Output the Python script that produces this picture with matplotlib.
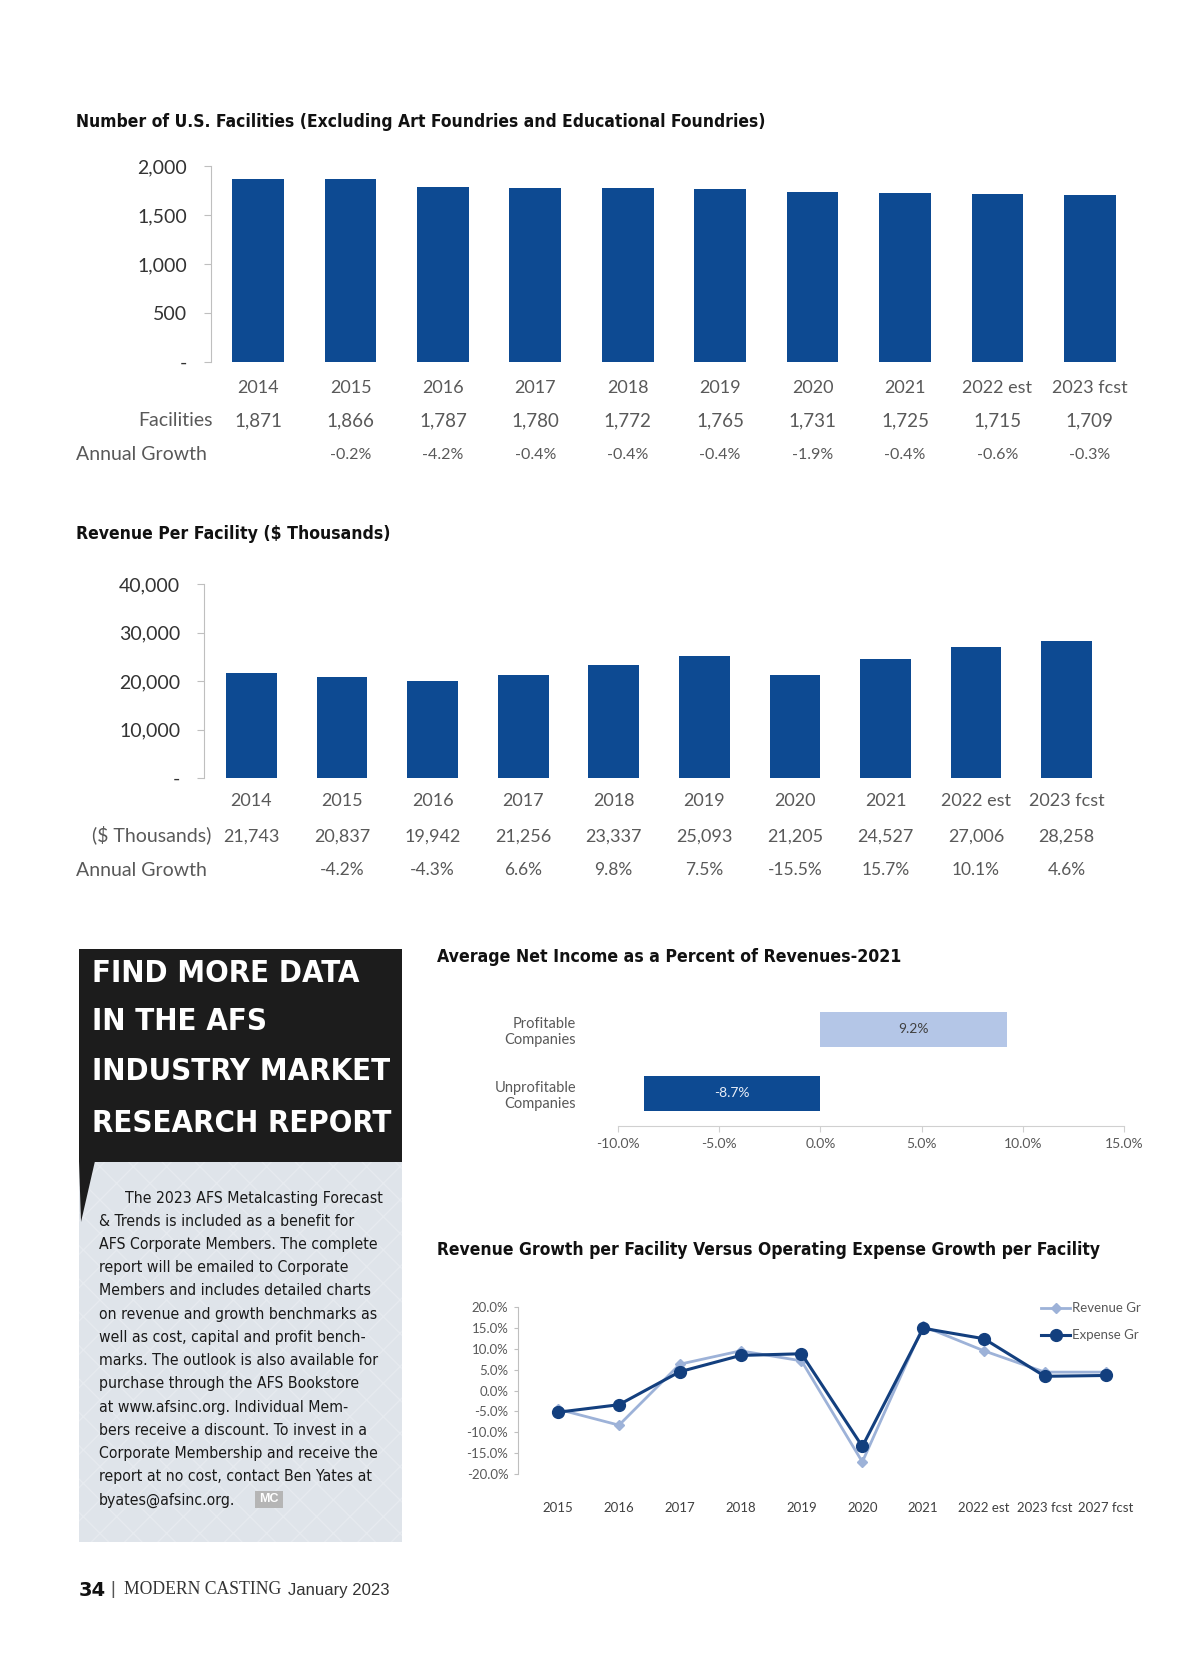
import matplotlib
matplotlib.use("Agg")
import matplotlib.pyplot as plt
from matplotlib import font_manager, transforms
from matplotlib.patches import Rectangle, Polygon
from matplotlib.ticker import FuncFormatter, FixedLocator

# ---------------------------------------------------------
# data
# ---------------------------------------------------------
years = ["2014", "2015", "2016", "2017", "2018", "2019", "2020", "2021", "2022 est", "2023 fcst"]
facilities = [1871, 1866, 1787, 1780, 1772, 1765, 1731, 1725, 1715, 1709]
facilities_growth = [None, -0.2, -4.2, -0.4, -0.4, -0.4, -1.9, -0.4, -0.6, -0.3]

revenue_per_facility = [21743, 20837, 19942, 21256, 23337, 25093, 21205, 24527, 27006, 28258]
revenue_facility_growth = [None, -4.2, -4.3, 6.6, 9.8, 7.5, -15.5, 15.7, 10.1, 4.6]

income_groups = ["Unprofitable\nCompanies", "Profitable\nCompanies"]
income_pct = [-8.7, 9.2]

growth_years = ["2015", "2016", "2017", "2018", "2019", "2020", "2021", "2022 est", "2023 fcst", "2027 fcst"]
revenue_growth = [-4.5, -8.3, 6.3, 9.5, 7.1, -17.1, 15.4, 9.5, 4.4, 4.4]
expense_growth = [-5.2, -3.4, 4.5, 8.4, 8.8, -13.4, 14.9, 12.4, 3.4, 3.6]

box_header = ["FIND MORE DATA", "IN THE AFS", "INDUSTRY MARKET", "RESEARCH REPORT"]
box_text = [
    "The 2023 AFS Metalcasting Forecast",
    "& Trends is included as a benefit for",
    "AFS Corporate Members. The complete",
    "report will be emailed to Corporate",
    "Members and includes detailed charts",
    "on revenue and growth benchmarks as",
    "well as cost, capital and profit bench-",
    "marks. The outlook is also available for",
    "purchase through the AFS Bookstore",
    "at www.afsinc.org. Individual Mem-",
    "bers receive a discount. To invest in a",
    "Corporate Membership and receive the",
    "report at no cost, contact Ben Yates at",
    "byates@afsinc.org.",
]

# ---------------------------------------------------------
# style
# ---------------------------------------------------------
BAR = "#0d4a92"
LIGHT_BAR = "#b4c6e7"
LINE_LIGHT = "#9db2d8"
LINE_DARK = "#133f7e"
GRAY = "#595959"
AXIS = "#bfbfbf"

names = {f.name for f in font_manager.fontManager.ttflist}
COND = "Liberation Sans Narrow" if "Liberation Sans Narrow" in names else "DejaVu Sans"
CHART = "Lato" if "Lato" in names else "DejaVu Sans"

plt.rcParams["font.family"] = [CHART, "DejaVu Sans"]

W, H = 1200, 1657
fig = plt.figure(figsize=(W / 100, H / 100), dpi=100)


def fx(px):
    return px / W


def fy(py):
    return 1 - py / H


def box(l, t, r, b):
    return [fx(l), fy(b), (r - l) / W, (b - t) / H]


def fit(t, width_px):
    r = fig.canvas.get_renderer()
    w = t.get_window_extent(r).width
    t.set_fontsize(t.get_fontsize() * width_px / w)
    return t.get_fontsize()


def title(x, y, s, width):
    t = fig.text(fx(x), fy(y), s, ha="left", va="center", family=[COND, "DejaVu Sans"],
                 fontstretch="condensed", fontweight="bold", fontsize=15, color="#111111")
    fit(t, width)


def pct(v):
    return "" if v is None else f"{v:.1f}%"


# ---------------------------------------------------------
# chart 1 - facilities
# ---------------------------------------------------------
title(76, 122, "Number of U.S. Facilities (Excluding Art Foundries and Educational Foundries)", 691)

ax1 = fig.add_axes(box(211, 166, 1136, 362))
x = list(range(len(years)))
ax1.bar(x, facilities, width=0.56, color=BAR)
ax1.set_xlim(-0.51, 9.5)
ax1.set_ylim(0, 2000)
ax1.yaxis.set_major_locator(FixedLocator([0, 500, 1000, 1500, 2000]))
ax1.yaxis.set_major_formatter(FuncFormatter(lambda v, p: "-" if v == 0 else f"{v:,.0f}"))
ax1.set_xticks([])
for s in ["top", "right", "bottom"]:
    ax1.spines[s].set_visible(False)
ax1.spines["left"].set_color(AXIS)
ax1.tick_params(axis="y", length=5, color=AXIS, pad=12, labelsize=14, labelcolor="#333333")

tr1 = transforms.blended_transform_factory(ax1.transData, fig.transFigure)
for i in x:
    ax1.text(i, fy(388), years[i], transform=tr1, ha="center", va="center", fontsize=13, color=GRAY)
    ax1.text(i, fy(421), f"{facilities[i]:,}", transform=tr1, ha="center", va="center",
             fontsize=13.5, color=GRAY)
    ax1.text(i, fy(455), pct(facilities_growth[i]), transform=tr1, ha="center", va="center",
             fontsize=11.5, color=GRAY)
fig.text(fx(213), fy(421), "Facilities", ha="right", va="center", fontsize=14, color=GRAY)
fig.text(fx(76), fy(455), "Annual Growth", ha="left", va="center", fontsize=14, color=GRAY)

# ---------------------------------------------------------
# chart 2 - revenue per facility
# ---------------------------------------------------------
title(76, 534, "Revenue Per Facility ($ Thousands)", 315)

ax2 = fig.add_axes(box(204, 584, 1112, 778))
ax2.bar(x, revenue_per_facility, width=0.56, color=BAR)
ax2.set_xlim(-0.523, 9.5)
ax2.set_ylim(0, 40000)
ax2.yaxis.set_major_locator(FixedLocator([0, 10000, 20000, 30000, 40000]))
ax2.yaxis.set_major_formatter(FuncFormatter(lambda v, p: "-" if v == 0 else f"{v:,.0f}"))
ax2.set_xticks([])
for s in ["top", "right", "bottom"]:
    ax2.spines[s].set_visible(False)
ax2.spines["left"].set_color(AXIS)
ax2.tick_params(axis="y", length=5, color=AXIS, pad=12, labelsize=14, labelcolor="#333333")

tr2 = transforms.blended_transform_factory(ax2.transData, fig.transFigure)
for i in x:
    ax2.text(i, fy(801), years[i], transform=tr2, ha="center", va="center", fontsize=13, color=GRAY)
    ax2.text(i, fy(837), f"{revenue_per_facility[i]:,}", transform=tr2, ha="center", va="center",
             fontsize=13, color=GRAY)
    ax2.text(i, fy(870), pct(revenue_facility_growth[i]), transform=tr2, ha="center", va="center",
             fontsize=12.5, color=GRAY)
fig.text(fx(211), fy(835), "($ Thousands)", ha="right", va="center", fontsize=14, color=GRAY)
fig.text(fx(76), fy(870), "Annual Growth", ha="left", va="center", fontsize=14, color=GRAY)

# ---------------------------------------------------------
# chart 3 - net income
# ---------------------------------------------------------
title(437, 957, "Average Net Income as a Percent of Revenues-2021", 464)

ax3 = fig.add_axes(box(618, 991, 1124, 1126))
yy = [0, 1]
ax3.barh(yy, income_pct, height=0.54, color=[BAR, LIGHT_BAR])
ax3.set_xlim(-10, 15)
ax3.set_ylim(-0.51, 1.6)
ax3.set_xticks([-10, -5, 0, 5, 10, 15])
ax3.xaxis.set_major_formatter(FuncFormatter(lambda v, p: f"{v:.1f}%"))
ax3.set_yticks(yy)
ax3.set_yticklabels(income_groups, fontsize=10.5, color=GRAY)
for s in ["top", "right", "left"]:
    ax3.spines[s].set_visible(False)
ax3.spines["bottom"].set_color("#d0d0d0")
ax3.tick_params(axis="x", length=4, color="#d0d0d0", pad=5, labelsize=10, labelcolor=GRAY)
ax3.tick_params(axis="y", length=0, pad=30)
for lbl in ax3.get_yticklabels():
    lbl.set_y(lbl.get_position()[1])
for yv, v, c in zip(yy, income_pct, ["#e8eef8", "#404040"]):
    ax3.text(v / 2, yv, f"{v:.1f}%", ha="center", va="center", fontsize=10, color=c)

# ---------------------------------------------------------
# chart 4 - growth lines
# ---------------------------------------------------------
title(437, 1250, "Revenue Growth per Facility Versus Operating Expense Growth per Facility", 663)

ax4 = fig.add_axes(box(518, 1307, 1130, 1474))
gx = list(range(len(growth_years)))
ax4.plot(gx, revenue_growth, color=LINE_LIGHT, lw=2, marker="D", ms=5.5, label="Revenue Gr")
ax4.plot(gx, expense_growth, color=LINE_DARK, lw=2.2, marker="o", ms=8.5, label="Expense Gr")
ax4.set_xlim(-0.66, 9.4)
ax4.set_ylim(-20, 20)
ax4.set_yticks(range(-20, 21, 5))
ax4.yaxis.set_major_formatter(FuncFormatter(lambda v, p: f"{v:.1f}%"))
ax4.set_xticks(gx)
ax4.set_xticklabels(growth_years)
for s in ["top", "right", "bottom"]:
    ax4.spines[s].set_visible(False)
ax4.spines["left"].set_color(AXIS)
ax4.tick_params(axis="y", length=3, color=AXIS, pad=4, labelsize=9.5, labelcolor=GRAY)
ax4.tick_params(axis="x", length=0, pad=20.5, labelsize=9.5, labelcolor="#404040")
ax4.legend(loc="upper left", bbox_to_anchor=(fx(1036), fy(1297)), bbox_transform=fig.transFigure,
           frameon=False, fontsize=9.5, handlelength=2.2, handletextpad=0.1,
           labelspacing=1.15, labelcolor=GRAY, borderaxespad=0)

# ---------------------------------------------------------
# side box
# ---------------------------------------------------------
fig.patches.append(Rectangle((fx(79), fy(1542)), 323 / W, 380 / H, transform=fig.transFigure,
                             facecolor="#dfe4ea", edgecolor="#e6eaef", hatch="x", lw=0))
fig.patches.append(Rectangle((fx(79), fy(1162)), 323 / W, 213 / H, transform=fig.transFigure,
                             facecolor="#1c1c1c", lw=0))
fig.patches.append(Polygon([(fx(79), fy(1161)), (fx(95), fy(1161)), (fx(81), fy(1222))],
                           closed=True, transform=fig.transFigure, facecolor="#1c1c1c", lw=0))

hy = [974, 1022, 1072, 1123]
head = []
for s, yv in zip(box_header, hy):
    head.append(fig.text(fx(92), fy(yv), s, ha="left", va="center", color="white",
                         family=[COND, "DejaVu Sans"], fontstretch="condensed",
                         fontweight="bold", fontsize=28))
hs = fit(head[2], 299)
for t in head:
    t.set_fontsize(hs)

body = []
for i, s in enumerate(box_text):
    body.append(fig.text(fx(125 if i == 0 else 99), fy(1198 + 23.24 * i), s, ha="left", va="center",
                         color="#1a1a1a", family=[COND, "DejaVu Sans"], fontstretch="condensed",
                         fontsize=12))
bs = fit(body[0], 257)
for t in body:
    t.set_fontsize(bs)

fig.patches.append(Rectangle((fx(255), fy(1508)), 28 / W, 17 / H, transform=fig.transFigure,
                             facecolor="#b5b5b5", lw=0))
fig.text(fx(269), fy(1499.5), "MC", ha="center", va="center", color="white",
         fontweight="bold", fontsize=9, family=["Liberation Sans", "DejaVu Sans"])

# ---------------------------------------------------------
# footer
# ---------------------------------------------------------
fig.text(fx(79), fy(1590), "34", ha="left", va="center", fontweight="bold", fontsize=14,
         family=[COND, "DejaVu Sans"], color="#111111")
fig.text(fx(113), fy(1589), "|", ha="center", va="center", fontsize=13, color="#555555",
         family=["Liberation Sans", "DejaVu Sans"])
ft = fig.text(fx(124), fy(1590), "MODERN CASTING", ha="left", va="center", fontsize=12,
              family=["Liberation Serif", "DejaVu Serif"], color="#333333")
fit(ft, 156)
ft = fig.text(fx(288), fy(1590), "January 2023", ha="left", va="center", fontsize=12,
              family=["Liberation Sans", "DejaVu Sans"], color="#333333")
fit(ft, 101)

fig.savefig("out.png", dpi=100, facecolor="white")
